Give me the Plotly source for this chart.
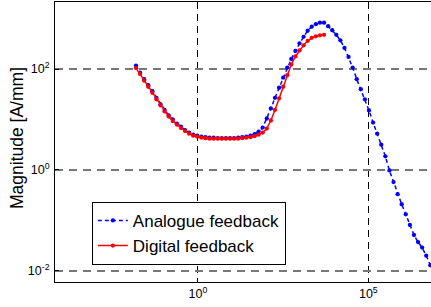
import plotly.graph_objects as go

# Values, stored as base-10 exponents
analogue_freq_exp = [-1.82, -1.70, -1.58, -1.46, -1.34, -1.22, -1.10, -0.98, -0.86, -0.74,
                     -0.62, -0.50, -0.38, -0.26, -0.14, -0.02, 0.10, 0.22, 0.34, 0.46,
                     0.58, 0.70, 0.82, 0.94, 1.06, 1.18, 1.30, 1.42, 1.54, 1.66,
                     1.78, 1.90, 2.02, 2.14, 2.26, 2.38, 2.50, 2.62, 2.74, 2.86,
                     2.98, 3.10, 3.22, 3.34, 3.46, 3.58, 3.70, 3.82, 3.94, 4.06,
                     4.18, 4.30, 4.42, 4.54, 4.66, 4.78, 4.90, 5.02, 5.14, 5.26,
                     5.38, 5.50, 5.62, 5.74, 5.86, 5.98, 6.10, 6.22, 6.34, 6.46,
                     6.58, 6.70, 6.82, 6.94]
analogue_mag_exp = [2.07, 1.93, 1.80, 1.68, 1.56, 1.43, 1.30, 1.19, 1.08, 1.00,
                    0.92, 0.86, 0.79, 0.74, 0.70, 0.68, 0.66, 0.65, 0.64, 0.64,
                    0.63, 0.63, 0.63, 0.63, 0.63, 0.64, 0.65, 0.66, 0.68, 0.71,
                    0.76, 0.84, 1.02, 1.22, 1.43, 1.63, 1.83, 2.03, 2.20, 2.36,
                    2.51, 2.64, 2.76, 2.84, 2.89, 2.92, 2.92, 2.85, 2.77, 2.68,
                    2.57, 2.42, 2.24, 2.03, 1.80, 1.60, 1.40, 1.18, 0.94, 0.72,
                    0.50, 0.27, -0.01, -0.24, -0.48, -0.68, -0.88, -1.09, -1.29, -1.43,
                    -1.54, -1.70, -1.89, -2.07]

digital_freq_exp = [-1.82, -1.70, -1.58, -1.46, -1.34, -1.22, -1.10, -0.98, -0.86, -0.74,
                    -0.62, -0.50, -0.38, -0.26, -0.14, -0.02, 0.10, 0.22, 0.34, 0.46,
                    0.58, 0.70, 0.82, 0.94, 1.06, 1.18, 1.30, 1.42, 1.54, 1.66,
                    1.78, 1.90, 2.02, 2.14, 2.26, 2.38, 2.50, 2.62, 2.74, 2.86,
                    2.98, 3.10, 3.22, 3.34, 3.46, 3.58, 3.70]
digital_mag_exp = [2.02, 1.90, 1.77, 1.65, 1.53, 1.40, 1.28, 1.16, 1.06, 0.97,
                   0.90, 0.83, 0.77, 0.72, 0.68, 0.66, 0.64, 0.63, 0.62, 0.62,
                   0.62, 0.62, 0.62, 0.62, 0.62, 0.62, 0.63, 0.64, 0.65, 0.67,
                   0.70, 0.74, 0.82, 0.98, 1.19, 1.42, 1.65, 1.88, 2.09, 2.25,
                   2.37, 2.47, 2.56, 2.62, 2.65, 2.67, 2.68]

series_names = ["Analogue feedback", "Digital feedback"]
y_title = "Magnitude [A/mm]"

x_tick_vals = [1, 1e5]
x_tick_text = ["10<sup>0</sup>", "10<sup>5</sup>"]
y_tick_vals = [1e-2, 1, 1e2]
y_tick_text = ["10<sup>-2</sup>", "10<sup>0</sup>", "10<sup>2</sup>"]

analogue_freq = [10 ** v for v in analogue_freq_exp]
analogue_mag = [10 ** v for v in analogue_mag_exp]
digital_freq = [10 ** v for v in digital_freq_exp]
digital_mag = [10 ** v for v in digital_mag_exp]

FONT = "Liberation Sans, Arial, Helvetica, sans-serif"

fig = go.Figure()
fig.add_trace(go.Scatter(
    x=analogue_freq, y=analogue_mag, name=series_names[0], mode="lines+markers",
    line=dict(color="#0000ff", width=1.5, dash="4px,3px"),
    marker=dict(color="#0000ff", size=4.3),
))
fig.add_trace(go.Scatter(
    x=digital_freq, y=digital_mag, name=series_names[1], mode="lines+markers",
    line=dict(color="#ff0000", width=1.5),
    marker=dict(color="#ff0000", size=4.3),
))

fig.update_layout(
    width=431, height=307,
    margin=dict(l=55, r=0, t=2, b=25, autoexpand=False),
    paper_bgcolor="white", plot_bgcolor="white",
    font=dict(family=FONT, color="black"),
    showlegend=True,
    legend=dict(
        x=0.098, y=0.286, xanchor="left", yanchor="top",
        bgcolor="white", bordercolor="black", borderwidth=1,
        font=dict(size=17, family=FONT, color="black"),
        tracegroupgap=0, itemwidth=30,
    ),
)

fig.update_xaxes(
    type="log", range=[-4.197, 6.84], automargin=False,
    tickmode="array", tickvals=x_tick_vals, ticktext=x_tick_text,
    showgrid=True, gridcolor="black", gridwidth=1, griddash="7px,5px",
    showline=True, linecolor="black", linewidth=1, mirror=True,
    ticks="inside", ticklen=4, tickcolor="black",
    tickfont=dict(size=12.5, family=FONT, color="black"),
    zeroline=False,
)
fig.update_yaxes(
    type="log", range=[-2.222, 3.33], automargin=False,
    tickmode="array", tickvals=y_tick_vals, ticktext=y_tick_text,
    showgrid=True, gridcolor="#777777", gridwidth=1.6, griddash="8px,6px",
    showline=True, linecolor="black", linewidth=1, mirror=False,
    ticks="inside", ticklen=4, tickcolor="black", ticklabelstandoff=2,
    tickfont=dict(size=12.5, family=FONT, color="black"),
    zeroline=False,
)

fig.add_annotation(
    text=y_title, xref="paper", yref="paper", x=0, y=0.5,
    xanchor="center", yanchor="middle",
    xshift=-38.5, yshift=3.5, textangle=-90, showarrow=False,
    font=dict(size=17.5, family=FONT, color="black"),
)

fig.write_html("out.html", config={"displayModeBar": False},
               post_script="document.body.style.margin='0px';")
